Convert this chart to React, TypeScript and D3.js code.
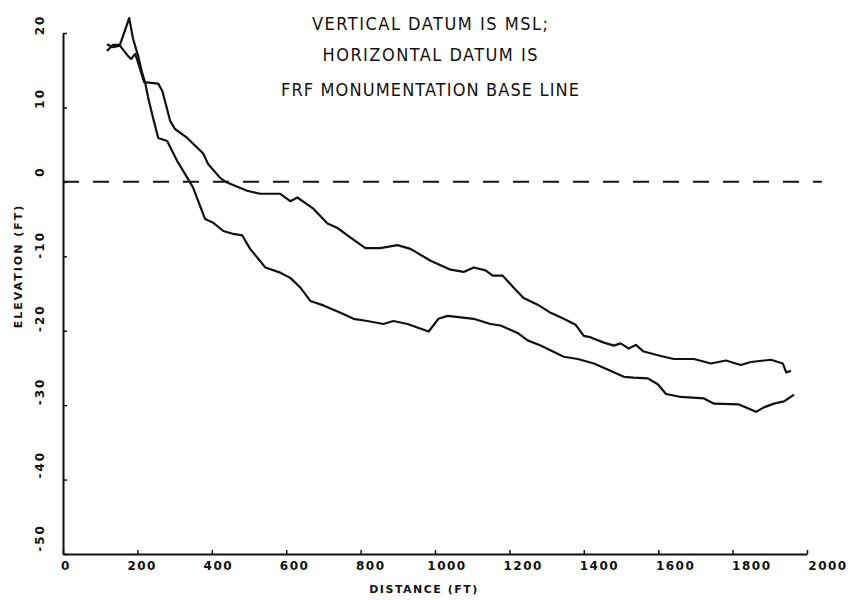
import React, { useEffect, useRef } from "react";
import * as d3 from "d3";

// profile that stays higher offshore (wiggly start, flat shelf near 0 ft)
const upperDist = [
  118, 135, 153, 175, 183, 194, 202, 218, 256, 267, 288, 301, 334, 377, 390,
  423, 441, 495, 530, 584, 611, 630, 673, 711, 738, 773, 813, 853, 899, 934,
  988, 1042, 1077, 1104, 1136, 1155, 1182, 1211, 1238, 1276, 1311, 1346, 1378,
  1400, 1419, 1454, 1481, 1499, 1521, 1540, 1561, 1607, 1642, 1696, 1742, 1782,
  1822, 1849, 1903, 1935, 1944, 1957,
];
const upperElev = [
  18.5, 18.1, 18.3, 16.9, 16.5, 17.2, 16.0, 13.4, 13.2, 12.2, 8.2, 7.1, 5.9,
  3.8, 2.4, 0.5, -0.1, -1.2, -1.6, -1.6, -2.6, -2.1, -3.6, -5.6, -6.2, -7.5,
  -8.9, -8.9, -8.5, -9.0, -10.6, -11.8, -12.1, -11.5, -11.9, -12.6, -12.6,
  -14.2, -15.6, -16.5, -17.6, -18.4, -19.2, -20.7, -20.9, -21.6, -22.0, -21.7,
  -22.4, -21.9, -22.8, -23.4, -23.8, -23.8, -24.4, -24.0, -24.6, -24.2, -23.9,
  -24.4, -25.6, -25.4,
];

// profile with the dune crest peak and the steeper drop
const lowerDist = [
  118, 135, 153, 178, 188, 202, 213, 221, 229, 242, 256, 280, 307, 336, 350,
  382, 404, 431, 458, 482, 503, 544, 584, 611, 638, 665, 700, 746, 781, 818,
  861, 888, 926, 983, 1009, 1034, 1104, 1149, 1176, 1222, 1249, 1284, 1346,
  1384, 1427, 1464, 1491, 1508, 1534, 1572, 1599, 1621, 1661, 1723, 1750, 1817,
  1863, 1884, 1911, 1938, 1965,
];
const lowerElev = [
  17.6, 18.4, 18.4, 22.0, 19.3, 16.9, 14.6, 13.3, 11.3, 8.6, 5.9, 5.5, 2.8,
  0.4, -0.8, -5.0, -5.5, -6.6, -7.0, -7.2, -9.0, -11.5, -12.2, -12.9, -14.2,
  -16.0, -16.6, -17.6, -18.4, -18.7, -19.1, -18.7, -19.1, -20.1, -18.4, -18.0,
  -18.4, -19.1, -19.3, -20.3, -21.3, -22.0, -23.5, -23.8, -24.4, -25.2, -25.8,
  -26.2, -26.3, -26.4, -27.2, -28.5, -28.9, -29.1, -29.8, -29.9, -30.9, -30.3,
  -29.8, -29.5, -28.6,
];

const xTicks = [0, 200, 400, 600, 800, 1000, 1200, 1400, 1600, 1800, 2000];
const yTicks = [20, 10, 0, -10, -20, -30, -40, -50];
const zeroLineEnd = 2040;
const titleLines = [
  "VERTICAL DATUM IS MSL;",
  "HORIZONTAL DATUM IS",
  "FRF MONUMENTATION BASE LINE",
];

export default function App() {
  const svgRef = useRef<SVGSVGElement>(null);

  useEffect(() => {
    const w = 851;
    const h = 600;
    const svg = d3.select(svgRef.current).attr("width", w).attr("height", h);
    svg.selectAll("*").remove();

    const xScale = d3.scaleLinear().domain([0, 2000]).range([63, 807]);
    const yScale = d3.scaleLinear().domain([-50, 20]).range([554, 33]);
    // the printed tick labels drift away from their ticks in the original plot
    const xLabel = d3.scaleLinear().domain([0, 2000]).range([66, 828]);
    const yLabel = d3.scaleLinear().domain([-50, 20]).range([538, 25]);

    const ink = "#111";
    const tickFont = "'DejaVu Sans', sans-serif";

    // axes, small inward ticks, no printed labels from d3
    const xAxis = d3
      .axisBottom(xScale)
      .tickValues(xTicks)
      .tickSize(-4)
      .tickSizeOuter(0)
      .tickFormat(() => "");
    const yAxis = d3
      .axisLeft(yScale)
      .tickValues(yTicks)
      .tickSize(-4)
      .tickSizeOuter(0)
      .tickFormat(() => "");

    const gx = svg
      .append("g")
      .attr("transform", `translate(0,${yScale(-50)})`)
      .call(xAxis);
    const gy = svg
      .append("g")
      .attr("transform", `translate(${xScale(0)},0)`)
      .call(yAxis);
    [gx, gy].forEach((g) => {
      g.select(".domain").attr("stroke", ink).attr("stroke-width", 2);
      g.selectAll(".tick line").attr("stroke", ink).attr("stroke-width", 1.5);
    });

    // tick labels
    svg
      .append("g")
      .selectAll("text")
      .data(xTicks)
      .join("text")
      .attr("x", (d) => xLabel(d))
      .attr("y", 570)
      .attr("text-anchor", "middle")
      .attr("font-family", tickFont)
      .attr("font-weight", "bold")
      .attr("font-size", 12)
      .attr("letter-spacing", 1.5)
      .attr("fill", ink)
      .text((d) => String(d));

    svg
      .append("g")
      .selectAll("text")
      .data(yTicks)
      .join("text")
      .attr("transform", (d) => `translate(44,${yLabel(d)}) rotate(-90)`)
      .attr("text-anchor", "middle")
      .attr("font-family", tickFont)
      .attr("font-weight", "bold")
      .attr("font-size", 12)
      .attr("letter-spacing", 2)
      .attr("fill", ink)
      .text((d) => String(d));

    // axis titles
    svg
      .append("text")
      .attr("x", 424)
      .attr("y", 593)
      .attr("text-anchor", "middle")
      .attr("font-family", tickFont)
      .attr("font-weight", "bold")
      .attr("font-size", 11)
      .attr("letter-spacing", 1.5)
      .attr("fill", ink)
      .text("DISTANCE (FT)");

    svg
      .append("text")
      .attr("transform", "translate(22,266) rotate(-90)")
      .attr("text-anchor", "middle")
      .attr("font-family", tickFont)
      .attr("font-weight", "bold")
      .attr("font-size", 11)
      .attr("letter-spacing", 2)
      .attr("fill", ink)
      .text("ELEVATION (FT)");

    // MSL reference line
    svg
      .append("line")
      .attr("x1", xScale(0))
      .attr("x2", xScale(zeroLineEnd))
      .attr("y1", yScale(0))
      .attr("y2", yScale(0))
      .attr("stroke", ink)
      .attr("stroke-width", 2)
      .attr("stroke-dasharray", "16, 14");

    // profiles
    const line = d3
      .line<[number, number]>()
      .x((d) => xScale(d[0]))
      .y((d) => yScale(d[1]));

    const profiles: [number, number][][] = [
      upperDist.map((d, i) => [d, upperElev[i]]),
      lowerDist.map((d, i) => [d, lowerElev[i]]),
    ];

    svg
      .append("g")
      .selectAll("path")
      .data(profiles)
      .join("path")
      .attr("d", (d) => line(d))
      .attr("fill", "none")
      .attr("stroke", ink)
      .attr("stroke-width", 2.2)
      .attr("stroke-linejoin", "round");

    // title block
    const titleWidths = [236, 215, 298];
    const titleY = [30, 61, 96];
    svg
      .append("g")
      .selectAll("text")
      .data(titleLines)
      .join("text")
      .attr("x", 430)
      .attr("y", (d, i) => titleY[i])
      .attr("text-anchor", "middle")
      .attr("font-family", "'DejaVu Sans Condensed', 'Liberation Sans Narrow', 'Liberation Sans', sans-serif")
      .attr("font-stretch", "condensed")
      .attr("font-size", 18)
      .attr("textLength", (d, i) => titleWidths[i])
      .attr("lengthAdjust", "spacing")
      .attr("fill", ink)
      .text((d) => d);
  }, []);

  return (
    <div>
      <svg
        ref={svgRef}
        style={{ position: "absolute", left: 0, top: 0, background: "#fff" }}
      ></svg>
    </div>
  );
}
